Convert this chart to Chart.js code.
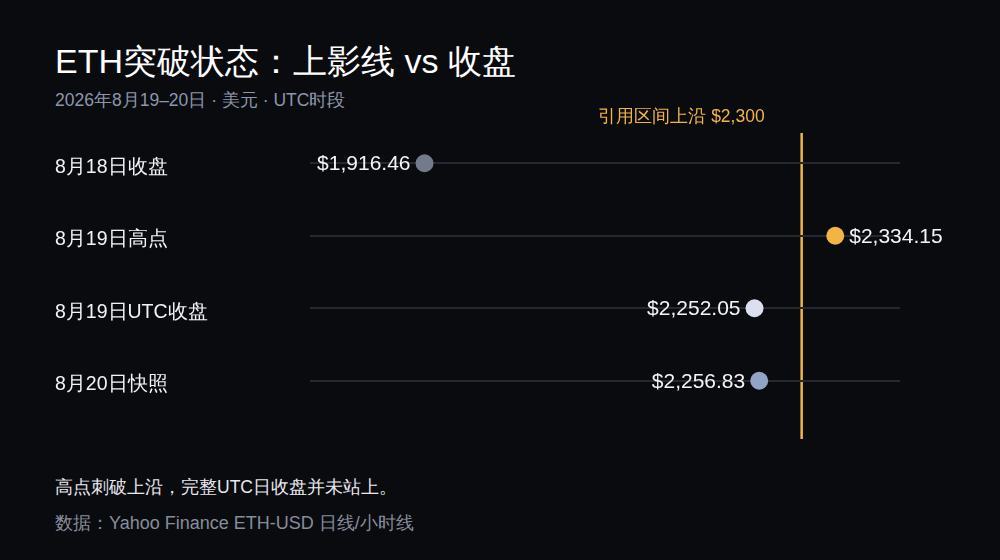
<!DOCTYPE html>
<html>
<head>
<meta charset="utf-8">
<script src="https://cdn.jsdelivr.net/npm/chart.js@4"></script>
<style>
  html, body { margin: 0; padding: 0; background: #0a0b0f; }
  body { width: 1000px; height: 560px; position: relative; overflow: hidden;
         font-family: "Liberation Sans", sans-serif; }
  .txt { position: absolute; left: 55px; white-space: nowrap; line-height: 1.2; }
  #title { top: 41px; font-size: 34px; color: #ffffff; }
  #subtitle { top: 90px; font-size: 17.5px; color: #8d96ab; }
  #note { top: 477px; font-size: 17.5px; color: #e8e9ee; }
  #source { top: 513px; font-size: 18px; color: #878d9c; }
  #wrap { position: absolute; left: 0; top: 100px; width: 1000px; height: 360px; }
</style>
</head>
<body>
<div class="txt" id="title">ETH突破状态：上影线 vs 收盘</div>
<div class="txt" id="subtitle">2026年8月19–20日 · 美元 · UTC时段</div>
<div id="wrap"><canvas id="myChart"></canvas></div>
<div class="txt" id="note">高点刺破上沿，完整UTC日收盘并未站上。</div>
<div class="txt" id="source">数据：Yahoo Finance ETH-USD 日线/小时线</div>
<script>
var rowLabels = ['8月18日收盘', '8月19日高点', '8月19日UTC收盘', '8月20日快照'];
var prices = [1916.46, 2334.15, 2252.05, 2256.83];
var pointColors = ['#737a8c', '#f2b544', '#dcdff0', '#92a4c6'];
var rangeTop = 2300;
var rangeTopLabel = '引用区间上沿 $2,300';

var fontFam = '"Liberation Sans", sans-serif';

var fmt = function(v) {
  return '$' + v.toLocaleString('en-US', {minimumFractionDigits: 2, maximumFractionDigits: 2});
};

// vertical reference line, drawn before the grid so row lines pass over it
var refLine = {
  id: 'refLine',
  beforeDraw: function(chart) {
    var c = chart.ctx, a = chart.chartArea;
    var x = chart.scales.x.getPixelForValue(rangeTop);
    c.save();
    c.strokeStyle = '#f2b544';
    c.lineWidth = 2.5;
    c.beginPath();
    c.moveTo(x, a.top + 6);
    c.lineTo(x, a.bottom + 22);
    c.stroke();
    c.fillStyle = '#f2b544';
    c.font = '17.5px ' + fontFam;
    c.textAlign = 'right';
    c.textBaseline = 'middle';
    c.fillText(rangeTopLabel, x - 37, a.top - 10);
    c.restore();
  }
};

// value labels beside each dot
var valueLabels = {
  id: 'valueLabels',
  afterDatasetsDraw: function(chart) {
    var c = chart.ctx;
    var meta = chart.getDatasetMeta(0);
    c.save();
    c.fillStyle = '#f3f4f7';
    c.font = '21px ' + fontFam;
    c.textBaseline = 'middle';
    meta.data.forEach(function(pt, i) {
      var v = prices[i];
      if (v > rangeTop) {
        c.textAlign = 'left';
        c.fillText(fmt(v), pt.x + 14, pt.y + 1);
      } else {
        c.textAlign = 'right';
        c.fillText(fmt(v), pt.x - 14, pt.y + 1);
      }
    });
    c.restore();
  }
};

var ctx = document.getElementById('myChart').getContext('2d');
var chart = new Chart(ctx, {
  type: 'line',
  data: {
    labels: rowLabels,
    datasets: [{
      data: prices,
      showLine: false,
      pointRadius: 9,
      pointHoverRadius: 9,
      pointBorderWidth: 0,
      pointBackgroundColor: pointColors,
      pointBorderColor: pointColors
    }]
  },
  options: {
    indexAxis: 'y',
    responsive: true,
    maintainAspectRatio: false,
    animation: false,
    layout: { padding: { left: 55, right: 100, top: 27, bottom: 43 } },
    plugins: { legend: { display: false }, tooltip: { enabled: false } },
    scales: {
      x: { type: 'linear', min: 1800, max: 2400, display: false },
      y: {
        type: 'category',
        offset: true,
        grid: { offset: false, color: '#252831', lineWidth: 2, drawTicks: false },
        border: { display: false },
        ticks: {
          crossAlign: 'far',
          color: '#f2f3f6',
          padding: 0,
          labelOffset: 4,
          font: { size: 19.5, family: fontFam }
        },
        afterFit: function(scale) { scale.width = 255; }
      }
    }
  },
  plugins: [refLine, valueLabels]
});
</script>
</body>
</html>
